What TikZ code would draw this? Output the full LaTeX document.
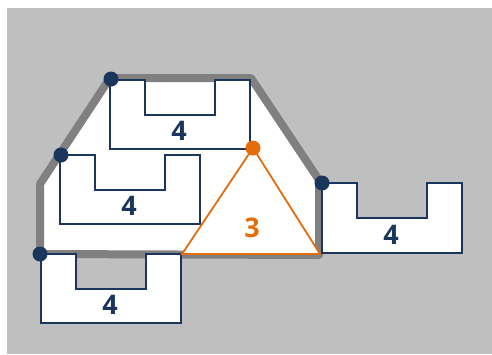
\documentclass[tikz,border=0pt]{standalone}
\usepackage{fontspec}
\setmainfont{Open Sans}
\definecolor{bgc}{HTML}{BFBFBF}
\definecolor{hullc}{HTML}{808080}
\definecolor{navy}{HTML}{1B365D}
\definecolor{orng}{HTML}{E46C0A}
\tikzset{
  ushape/.style={draw=navy,fill=white,line width=1.5pt,line join=miter},
  hull/.style={draw=hullc,fill=white,line width=8pt,line join=round},
  lab/.style={font=\fontsize{27}{27}\selectfont\bfseries,text=navy,inner sep=0pt},
  olab/.style={lab,text=orng},
  dot/.style={circle,fill=navy,inner sep=0pt,minimum size=15pt},
  odot/.style={dot,fill=orng},
  tri/.style={draw=orng,fill=white,line width=1.8pt,line join=miter}
}
\begin{document}
\begin{tikzpicture}[x=1pt,y=-1pt]
\useasboundingbox (0,0) rectangle (492,354);
\fill[bgc] (7,8) rectangle (492,354);
% hull
\coordinate (h1) at (40,254);
\coordinate (h2) at (40,184);
\coordinate (h3) at (110,78);
\coordinate (h4) at (251,78);
\coordinate (h5) at (319,180);
\coordinate (h6) at (319,255);
\draw[hull] (h1) -- (h2) -- (h3) -- (h4) -- (h5) -- (h6) -- cycle;
% U shapes
\draw[ushape] (110,80) -- (145,80) -- (145,115) -- (215,115) -- (215,80) -- (250,80) -- (250,149) -- (110,149) -- cycle;
\draw[ushape] (60,155) -- (95,155) -- (95,190) -- (165,190) -- (165,155) -- (200,155) -- (200,224) -- (60,224) -- cycle;
\draw[ushape] (41,254) -- (76,254) -- (76,289) -- (146,289) -- (146,254) -- (181,254) -- (181,323) -- (41,323) -- cycle;
\draw[ushape] (322,183) -- (357,183) -- (357,218) -- (427,218) -- (427,183) -- (462,183) -- (462,253) -- (322,253) -- cycle;
% triangle
\coordinate (t1) at (253,148);
\coordinate (t2) at (182,254);
\coordinate (t3) at (320,254);
\draw[tri] (t1) -- (t2) -- (t3) -- cycle;
% labels
\node[lab] (l1) at (179,131) {4};
\node[lab] (l2) at (129,206) {4};
\node[lab] (l3) at (110,305) {4};
\node[lab] (l4) at (391,235) {4};
\node[olab] (l5) at (252,228) {3};
% dots
\node[dot] (d1) at (40,254) {};
\node[dot] (d2) at (61,155) {};
\node[dot] (d3) at (111,79) {};
\node[dot] (d4) at (322,183) {};
\node[odot] (d5) at (253,148) {};
\end{tikzpicture}
\end{document}
